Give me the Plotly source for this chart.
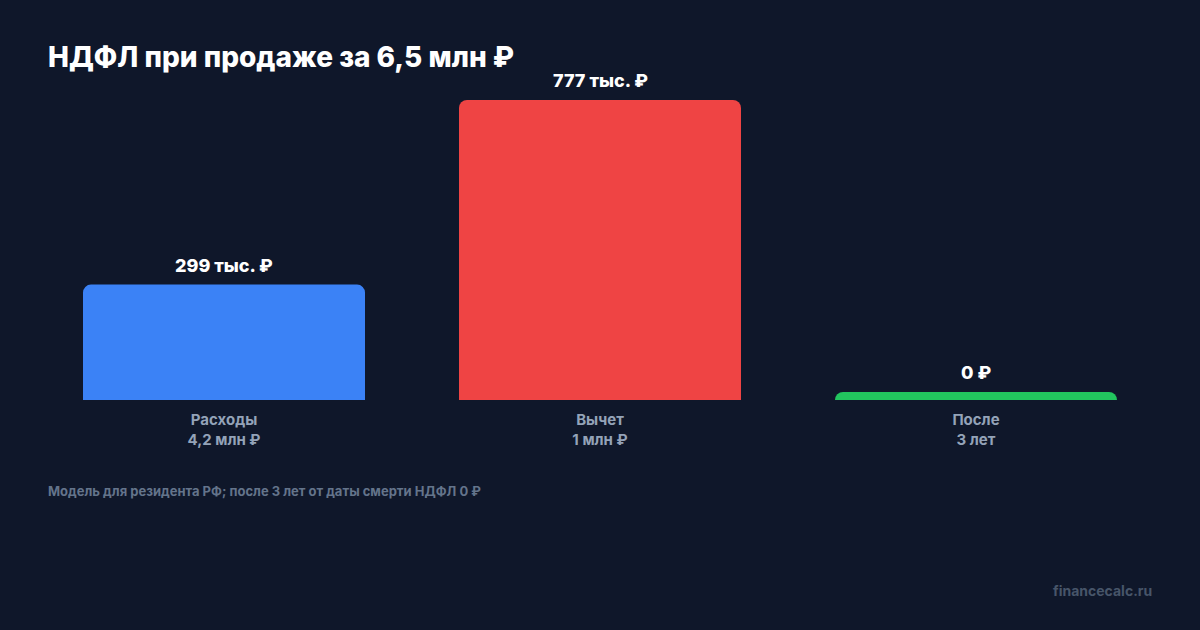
import plotly.graph_objects as go

categories = ["Расходы", "Вычет", "После"]
tick_labels = ["Расходы<br>4,2 млн ₽", "Вычет<br>1 млн ₽", "После<br>3 лет"]
values = [299, 777, 0]  # тыс. ₽
value_labels = ["299 тыс. ₽", "777 тыс. ₽", "0 ₽"]
colors = ["#3b82f6", "#ef4444", "#22c55e"]

BG = "#0f172a"
FONT = "Inter, Roboto, sans-serif"

vmax = max(values)
min_vis = vmax * 8 / 300  # minimal visible bar height for zero values
display_vals = [max(v, min_vis) for v in values]

fig = go.Figure()
fig.add_trace(go.Bar(
    x=categories, y=display_vals,
    marker=dict(color=colors, cornerradius=8, line=dict(width=0)),
    hoverinfo="skip",
))

for c, v, t in zip(categories, display_vals, value_labels):
    fig.add_annotation(x=c, y=v, text=t, showarrow=False,
                       yanchor="bottom", yshift=7,
                       font=dict(family=FONT, size=18, color="#ffffff", weight=800))

fig.update_layout(
    width=1200, height=630,
    paper_bgcolor=BG, plot_bgcolor=BG,
    margin=dict(l=36, r=36, t=100, b=230),
    bargap=0.25,
    showlegend=False,
    font=dict(family=FONT),
    title=dict(text="НДФЛ при продаже за 6,5 млн ₽",
               x=48 / 1200, xanchor="left", xref="container",
               y=1 - 57 / 630, yanchor="middle", yref="container",
               font=dict(family=FONT, size=28, color="#ffffff", weight=800)),
    xaxis=dict(tickvals=categories, ticktext=tick_labels,
               tickfont=dict(family=FONT, size=15, color="#94a3b8", weight=700),
               ticklabelstandoff=9,
               showgrid=False, zeroline=False, showline=False, ticks="",
               fixedrange=True),
    yaxis=dict(range=[0, vmax], visible=False, showgrid=False, zeroline=False,
               fixedrange=True),
)

fig.add_annotation(xref="paper", yref="paper", x=10 / 1128, y=-91 / 300,
                   xanchor="left", yanchor="middle", showarrow=False,
                   text="Модель для резидента РФ; после 3 лет от даты смерти НДФЛ 0 ₽",
                   font=dict(family=FONT, size=13, color="#64748b", weight=700))
fig.add_annotation(xref="paper", yref="paper", x=1118 / 1128, y=-190 / 300,
                   xanchor="right", yanchor="middle", showarrow=False,
                   text="financecalc.ru",
                   font=dict(family=FONT, size=14, color="#475569", weight=700))

fig.write_html("out.html", config={"displayModeBar": False},
               post_script="document.body.style.margin='0';document.body.style.background='#0f172a';")
